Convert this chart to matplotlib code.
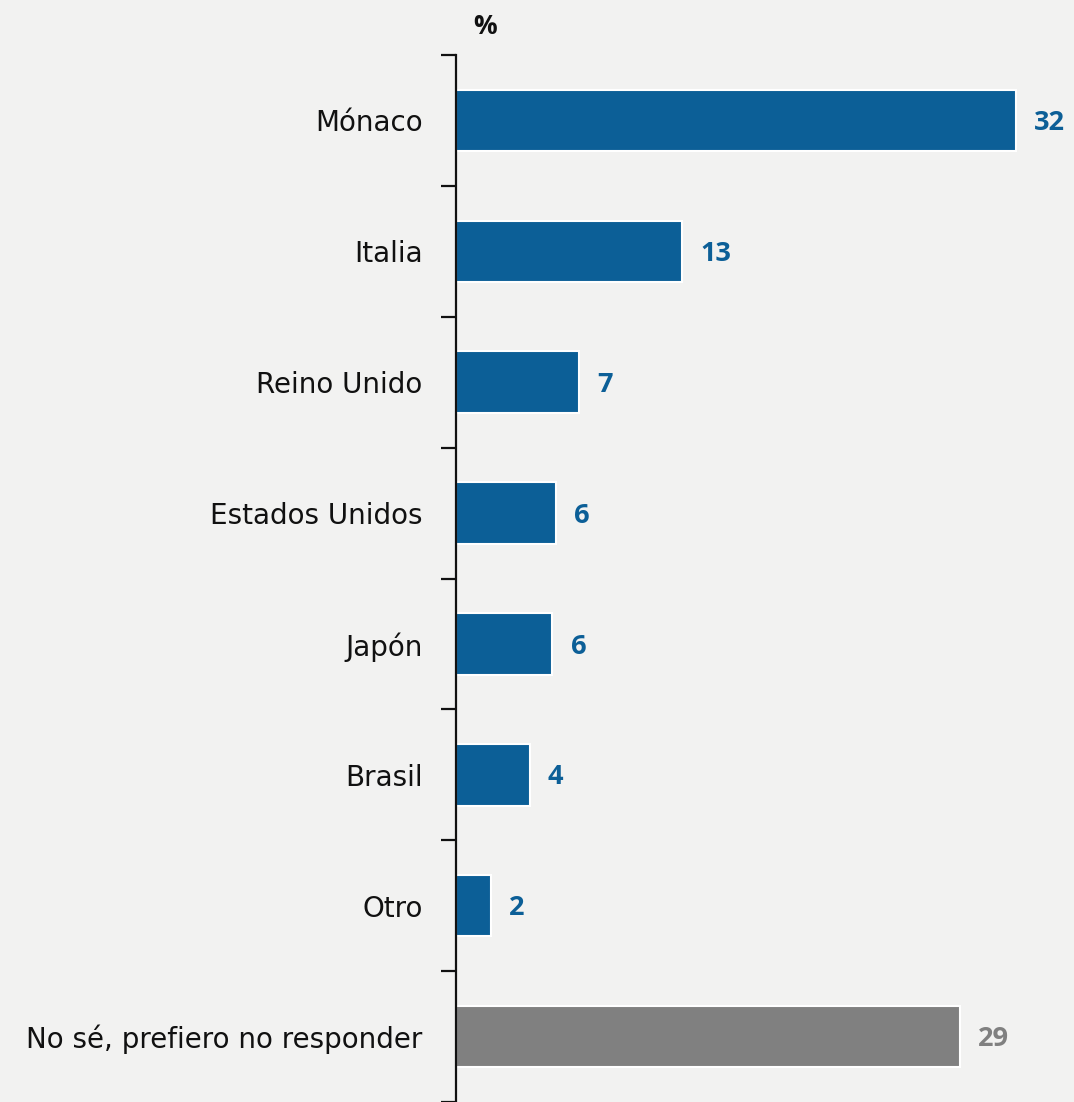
import matplotlib.pyplot as plt

# ---- data ----
categories = ["Mónaco", "Italia", "Reino Unido", "Estados Unidos", "Japón",
              "Brasil", "Otro", "No sé, prefiero no responder"]
values = [32.0, 12.9, 7.0, 5.7, 5.5, 4.2, 2.0, 28.8]
value_labels = ["32", "13", "7", "6", "6", "4", "2", "29"]
bar_colors = ["#0c5f97"] * 7 + ["#808080"]

BG = "#f2f2f1"

fig = plt.figure(figsize=(10.74, 11.02), dpi=100, facecolor=BG)
ax = fig.add_axes([456 / 1074, 0.0, 1 - 456 / 1074, 1047 / 1102])
ax.set_facecolor(BG)

pos = list(range(len(categories)))
ax.barh(pos, values, height=0.47, color=bar_colors, edgecolor="white", linewidth=1.5)

ax.set_xlim(0, 618 / 17.5)
ax.set_ylim(len(categories) - 0.5, -0.5)

# value labels next to bars
for p, v, lab, c in zip(pos, values, value_labels, bar_colors):
    ax.text(v + 1.05, p + 0.02, lab, va="center", ha="left", fontsize=19.5,
            fontweight="bold", color=c, family="Open Sans")

# spines and ticks
for s in ["top", "right", "bottom"]:
    ax.spines[s].set_visible(False)
ax.spines["left"].set_linewidth(1.6)
ax.spines["left"].set_color("#111111")
ax.set_xticks([])

ax.set_yticks(pos)
ax.set_yticklabels(categories, fontsize=20, family="DejaVu Sans", color="#111111")
ax.tick_params(axis="y", which="major", length=0, pad=24)
ax.set_yticks([p - 0.5 for p in pos] + [len(pos) - 0.5], minor=True)
ax.tick_params(axis="y", which="minor", length=11, width=1.6, color="#111111")

fig.text(485 / 1074, 1 - 27 / 1102, "%", ha="center", va="center", fontsize=19,
         fontweight="bold", family="Open Sans", color="#111111")

fig.savefig("out.png", dpi=100, facecolor=BG)
